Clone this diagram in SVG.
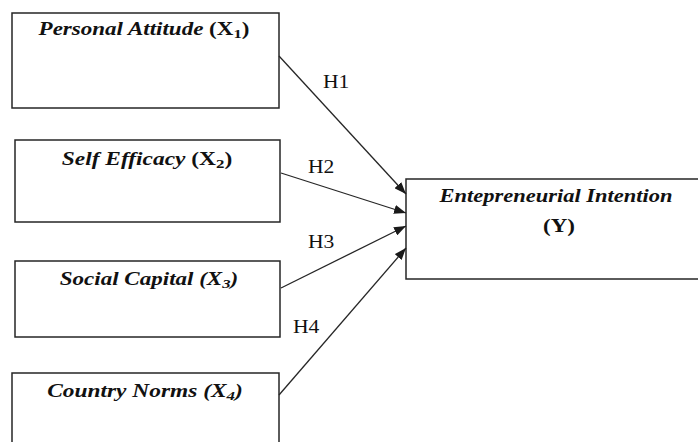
<svg xmlns="http://www.w3.org/2000/svg" width="698" height="442" viewBox="0 0 698 442">
<defs>
<style>
.box{fill:#fff;stroke:#262626;stroke-width:1.5}
.lbl{font-family:"Liberation Serif","Times New Roman",serif;font-size:18px;font-weight:bold;fill:#111;text-anchor:middle}
.it{font-style:italic}
.sub{font-size:13px}
.h{font-family:"Liberation Serif","Times New Roman",serif;font-size:18px;fill:#111}
.conn{stroke:#262626;stroke-width:1.3;fill:none;marker-end:url(#arr)}
</style>
<marker id="arr" markerUnits="userSpaceOnUse" markerWidth="13" markerHeight="9" refX="12" refY="4.5" orient="auto">
<path d="M0,0 L12,4.5 L0,9 z" fill="#1a1a1a"/>
</marker>
</defs>
<rect width="698" height="442" fill="#fff"/>
<g id="x1">
<rect class="box" x="12" y="13" width="267" height="95"/>
<text class="lbl" transform="translate(144,35) scale(1.28,1)"><tspan class="it">Personal Attitude</tspan> (X<tspan class="sub" dy="3">1</tspan><tspan dy="-3">)</tspan></text>
</g>
<g id="x2">
<rect class="box" x="15" y="140" width="265" height="82"/>
<text class="lbl" transform="translate(147,165) scale(1.3,1)"><tspan class="it">Self Efficacy</tspan> (X<tspan class="sub" dy="3">2</tspan><tspan dy="-3">)</tspan></text>
</g>
<g id="x3">
<rect class="box" x="15" y="261" width="265" height="76"/>
<text class="lbl it" transform="translate(149,285) scale(1.28,1)">Social Capital (X<tspan class="sub" dy="3">3</tspan><tspan dy="-3">)</tspan></text>
</g>
<g id="x4">
<rect class="box" x="12" y="373" width="267" height="80"/>
<text class="lbl it" transform="translate(145,397) scale(1.3,1)">Country Norms (X<tspan class="sub" dy="3">4</tspan><tspan dy="-3">)</tspan></text>
</g>
<g id="y">
<rect class="box" x="406" y="179" width="300" height="100"/>
<text class="lbl it" transform="translate(556,202) scale(1.25,1)">Entepreneurial Intention</text>
<text class="lbl" transform="translate(559,232) scale(1.28,1)">(Y)</text>
</g>
<g id="connectors">
<line class="conn" x1="279" y1="56" x2="406" y2="194"/>
<line class="conn" x1="281" y1="173" x2="406" y2="213"/>
<line class="conn" x1="281" y1="288" x2="406" y2="226"/>
<line class="conn" x1="279" y1="395" x2="406" y2="248"/>
<text class="h" transform="translate(323,88) scale(1.2,1)">H1</text>
<text class="h" transform="translate(308,173) scale(1.2,1)">H2</text>
<text class="h" transform="translate(308,248) scale(1.2,1)">H3</text>
<text class="h" transform="translate(293,333) scale(1.2,1)">H4</text>
</g>
</svg>
